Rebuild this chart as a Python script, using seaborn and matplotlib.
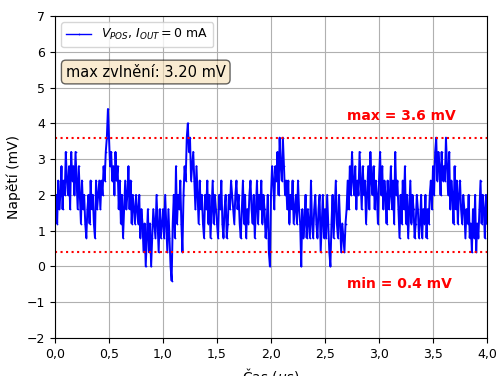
import numpy as np
import pandas as pd
import matplotlib
matplotlib.use("Agg")
import matplotlib.pyplot as plt
import seaborn as sns

# Output ripple measurement, sampled every 10 ns (mV)
v_pos = [
    1.6, 2.0, 1.2, 2.4, 1.6, 2.0, 2.8, 1.6, 2.4, 2.0,
    3.2, 2.4, 2.0, 2.8, 1.6, 3.2, 2.4, 2.8, 2.0, 3.2,
    2.4, 1.6, 2.8, 2.0, 1.2, 2.4, 1.6, 2.0, 1.2, 0.8,
    1.6, 2.0, 1.2, 2.4, 1.6, 2.0, 1.2, 0.8, 2.4, 1.6,
    2.0, 2.4, 1.6, 2.4, 2.0, 2.8, 2.4, 3.2, 3.6, 4.4,

    3.6, 2.8, 3.2, 2.4, 2.8, 2.0, 3.2, 2.4, 2.8, 1.6,
    2.4, 1.2, 2.0, 0.8, 1.6, 2.4, 1.6, 2.0, 2.8, 1.6,
    2.4, 1.2, 2.0, 1.6, 1.2, 2.0, 1.6, 1.2, 2.0, 0.8,
    1.6, 1.2, 0.4, 1.2, 0.0, 0.8, 1.6, 0.4, 1.2, 0.0,
    0.8, 1.6, 1.2, 0.8, 2.0, 1.2, 0.4, 1.6, 0.8, 1.2,

    1.6, 0.8, 2.0, 1.2, 0.4, 1.6, 0.8, 0.0, -0.4, 1.2,
    2.0, 0.8, 2.8, 1.2, 2.0, 1.6, 2.4, 1.2, 0.4, 2.0,
    2.8, 2.4, 3.6, 4.0, 3.2, 3.6, 2.4, 2.8, 3.2, 2.4,
    1.6, 2.8, 2.0, 1.2, 2.4, 1.6, 2.0, 1.2, 0.8, 2.0,
    1.6, 2.4, 1.2, 2.0, 0.8, 1.6, 2.4, 1.2, 2.0, 1.6,

    1.2, 0.8, 2.0, 1.6, 2.4, 1.2, 0.8, 1.6, 2.0, 0.8,
    1.2, 2.0, 1.6, 2.4, 2.0, 1.6, 1.2, 2.0, 2.4, 1.6,
    2.0, 1.2, 0.8, 1.6, 2.4, 1.2, 2.0, 0.8, 1.6, 1.2,
    2.0, 2.4, 1.6, 1.2, 2.0, 0.8, 1.6, 2.4, 1.2, 2.0,
    1.6, 2.4, 1.2, 2.0, 1.6, 0.8, 1.2, 2.0, 0.4, 0.0,

    2.0, 2.8, 2.4, 1.6, 2.8, 2.4, 3.2, 2.0, 3.6, 2.8,
    2.4, 3.6, 2.8, 2.0, 2.4, 1.6, 2.4, 1.2, 2.0, 1.6,
    2.4, 1.2, 1.6, 2.0, 1.2, 2.4, 1.6, 1.2, 0.0, 1.6,
    0.8, 1.2, 2.0, 0.8, 1.6, 1.2, 0.8, 2.4, 1.2, 0.8,
    1.6, 2.0, 1.2, 0.8, 1.6, 2.0, 0.4, 1.2, 2.0, 0.8,

    1.6, 0.8, 2.0, 1.2, 0.4, 0.0, 1.2, 2.0, 0.8, 1.6,
    2.4, 1.2, 0.8, 2.0, 1.2, 0.4, 1.2, 0.8, 0.4, 1.2,
    1.6, 2.4, 1.6, 2.8, 2.0, 3.2, 2.4, 2.0, 2.8, 1.6,
    2.4, 2.0, 3.2, 2.4, 1.6, 2.8, 2.0, 2.4, 1.2, 2.0,
    2.8, 1.6, 3.2, 2.4, 2.0, 2.8, 1.6, 2.4, 2.0, 1.2,

    2.4, 3.2, 2.0, 2.8, 1.6, 2.4, 2.0, 1.2, 2.4, 1.6,
    2.0, 2.8, 1.6, 2.4, 1.2, 3.2, 2.0, 2.4, 1.6, 0.8,
    2.0, 1.2, 2.4, 1.6, 2.8, 1.2, 2.0, 0.8, 1.6, 2.4,
    1.2, 2.0, 1.6, 0.8, 1.2, 2.0, 1.6, 0.8, 1.2, 2.0,
    0.8, 1.6, 1.2, 2.0, 0.8, 1.6, 1.2, 2.0, 2.4, 1.6,

    2.8, 2.0, 3.2, 3.6, 2.4, 3.2, 2.8, 2.0, 3.2, 2.4,
    2.8, 2.4, 3.6, 2.8, 2.0, 3.2, 1.6, 2.4, 2.0, 1.2,
    2.8, 1.6, 2.4, 1.2, 2.0, 2.4, 1.6, 1.2, 2.0, 1.6,
    0.8, 1.6, 1.2, 2.0, 0.8, 1.2, 0.4, 1.6, 0.8, 2.0,
    0.4, 1.2, 0.8, 1.6, 2.4, 1.2, 2.0, 1.6, 0.8, 2.0,
    1.2,
]
t_us = np.linspace(0.0, 4.0, len(v_pos))

ripple_max = 3.6
ripple_min = 0.4
ripple_pp = 3.20

x_ticks = [0.0, 0.5, 1.0, 1.5, 2.0, 2.5, 3.0, 3.5, 4.0]
x_tick_labels = ["0,0", "0,5", "1,0", "1,5", "2,0", "2,5", "3,0", "3,5", "4,0"]
y_ticks = [-2, -1, 0, 1, 2, 3, 4, 5, 6, 7]

df = pd.DataFrame({"t": t_us, "v": v_pos})

fig = plt.figure(figsize=(4.97, 3.76), dpi=100)
ax = fig.add_axes([55 / 497, 1 - 338 / 376, 432 / 497, 322 / 376])

sns.lineplot(data=df, x="t", y="v", ax=ax, color="blue", linewidth=1.4,
             marker=".", markersize=2.5, markeredgewidth=0,
             label=r"$V_{POS}$, $I_{OUT} = 0$ mA")

ax.axhline(ripple_max, color="red", linestyle=":", linewidth=1.5)
ax.axhline(ripple_min, color="red", linestyle=":", linewidth=1.5)
ax.text(2.7, ripple_max + 0.6, f"max = {ripple_max:.1f} mV", color="red",
        fontweight="bold", fontsize=10, va="center")
ax.text(2.7, ripple_min - 0.88, f"min = {ripple_min:.1f} mV", color="red",
        fontweight="bold", fontsize=10, va="center")

ax.text(0.025, 0.826, f"max zvlnění: {ripple_pp:.2f} mV", transform=ax.transAxes,
        fontsize=10.5, va="center",
        bbox=dict(boxstyle="round", facecolor="wheat", alpha=0.6))

ax.set_xlim(0, 4)
ax.set_ylim(-2, 7)
ax.set_xticks(x_ticks)
ax.set_xticklabels(x_tick_labels)
ax.set_yticks(y_ticks)
ax.tick_params(labelsize=9)
ax.grid(True, color="#b0b0b0", linewidth=0.8)
ax.set_xlabel(r"Čas ($\mu$s)", fontsize=10)
ax.set_ylabel("Napětí (mV)", fontsize=10)
leg = ax.legend(loc="upper left", fontsize=9)
for line in leg.get_lines():
    line.set_linewidth(1.0)

fig.savefig("out.png", dpi=100)
